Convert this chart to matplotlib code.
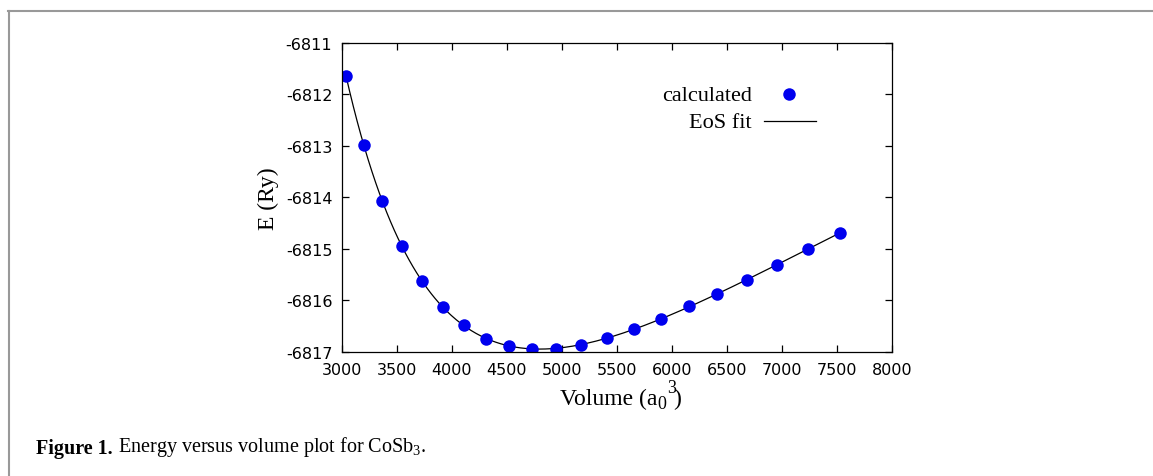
import numpy as np
import matplotlib
matplotlib.use("Agg")
import matplotlib.pyplot as plt
from matplotlib.lines import Line2D
from matplotlib.text import Annotation

# E(V) points
volume = [3036, 3200, 3364, 3545, 3727, 3918, 4109, 4309, 4518, 4727, 4945,
          5173, 5409, 5655, 5900, 6155, 6409, 6682, 6955, 7236, 7527]
energy = [-6811.64, -6812.98, -6814.07, -6814.94, -6815.62, -6816.13, -6816.48,
          -6816.75, -6816.88, -6816.94, -6816.94, -6816.86, -6816.73, -6816.55,
          -6816.36, -6816.11, -6815.87, -6815.60, -6815.31, -6815.00, -6814.69]

xticks = [3000, 3500, 4000, 4500, 5000, 5500, 6000, 6500, 7000, 7500, 8000]
yticks = [-6817, -6816, -6815, -6814, -6813, -6812, -6811]

# Birch-Murnaghan style fit: E is cubic in V^(-2/3)
v = np.array(volume, dtype=float)
e = np.array(energy)
coef = np.polyfit(v ** (-2.0 / 3.0), e, 3)
vfit = np.linspace(v.min(), v.max(), 400)
efit = np.polyval(coef, vfit ** (-2.0 / 3.0))

serif = ["Liberation Serif", "DejaVu Serif"]
plt.rcParams["font.family"] = ["DejaVu Sans"]
plt.rcParams["mathtext.fontset"] = "custom"
plt.rcParams["mathtext.rm"] = "Liberation Serif"

fig = plt.figure(figsize=(11.53, 4.77), dpi=100)
ax = fig.add_axes([0.2966, 0.2600, 0.4770, 0.6478])

ax.plot(vfit, efit, color="black", lw=0.9)
ax.plot(v, e, "o", color="#0000ee", ms=9, mec="none")

ax.set_xlim(3000, 8000)
ax.set_ylim(-6817, -6811)
ax.set_xticks(xticks)
ax.set_yticks(yticks)
ax.set_yticklabels([str(t) for t in yticks])
ax.tick_params(direction="in", top=True, right=True, length=5, width=0.9,
               labelsize=11.5, pad=7, colors="black")
for s in ax.spines.values():
    s.set_linewidth(0.9)

ax.text(-0.1345, 0.5, "E (Ry)", transform=ax.transAxes, rotation=90,
        ha="center", va="center", fontsize=17, family=serif)

# x label built piece by piece so sub/superscript look like gnuplot's
xl = ax.text(0.3964, -0.168, "Volume (a", transform=ax.transAxes,
             ha="left", va="baseline", fontsize=17, family=serif)
sub = ax.annotate("0", xy=(1, 0), xycoords=xl, xytext=(0.3, -2.5),
                  textcoords="offset points", va="bottom", ha="left",
                  fontsize=13, family=serif)
sup = ax.annotate("3", xy=(1, 0), xycoords=(sub, xl), xytext=(0, 9),
                  textcoords="offset points", va="bottom", ha="left",
                  fontsize=13, family=serif)
ax.annotate(")", xy=(1, 0), xycoords=(sup, xl), xytext=(-1.5, 0),
            textcoords="offset points", va="bottom", ha="left",
            fontsize=17, family=serif)

# legend drawn by hand (text right-aligned, key on the right)
ax.text(0.7455, 0.83, "calculated", transform=ax.transAxes, ha="right",
        va="center", fontsize=16, family=serif)
ax.text(0.7455, 0.743, "EoS fit", transform=ax.transAxes, ha="right",
        va="center", fontsize=16, family=serif)
ax.add_line(Line2D([0.8127], [0.835], marker="o", color="#0000ee", ms=9,
                   mec="none", transform=ax.transAxes))
ax.add_line(Line2D([0.767, 0.862], [0.748, 0.748], color="black", lw=0.9,
                   transform=ax.transAxes))

# page frame and caption
fig.add_artist(Line2D([8 / 1153, 1.0], [1 - 12 / 477, 1 - 12 / 477],
                      color="#999999", lw=1.5, transform=fig.transFigure))
fig.add_artist(Line2D([9 / 1153, 9 / 1153], [0.0, 1 - 12 / 477],
                      color="#999999", lw=1.5, transform=fig.transFigure))

t1 = fig.text(0.0312, 0.038, "Figure 1.", fontsize=14.5, fontweight="bold",
              family=serif, va="bottom")
fig.add_artist(Annotation(
    r" Energy versus volume plot for CoSb$_\mathregular{3}$.",
    xy=(1, 0), xycoords=t1, va="bottom", fontsize=14.5, family=serif))

fig.savefig("out.png", dpi=100)
